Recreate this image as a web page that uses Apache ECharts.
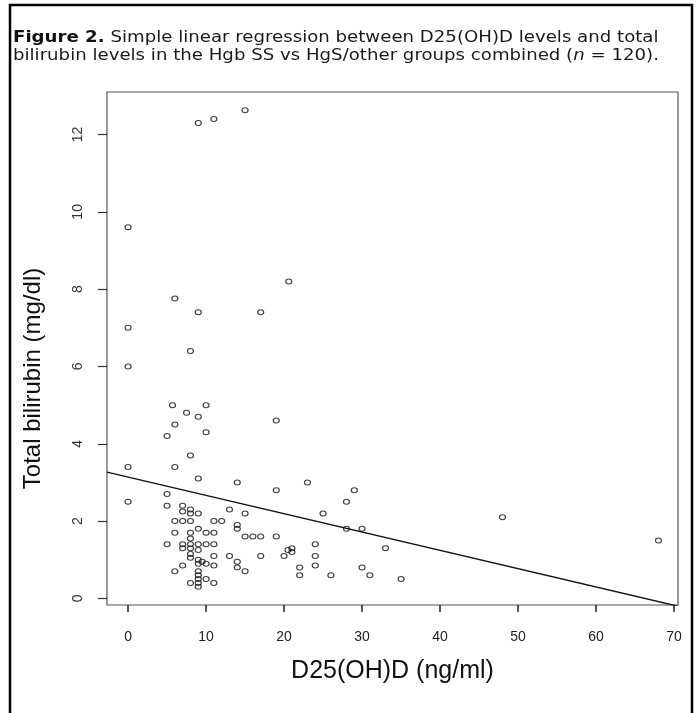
<!DOCTYPE html>
<html>
<head>
<meta charset="utf-8">
<script src="https://cdn.jsdelivr.net/npm/echarts@6.0.0/dist/echarts.min.js"></script>
<style>
  html, body { margin: 0; padding: 0; background: #fff; }
  #chart { width: 699px; height: 713px; }
</style>
</head>
<body>
<div id="chart"></div>
<script>
// D25(OH)D (ng/ml)
const vitD = [
  0, 9, 11, 15, 20.6, 6, 9, 17, 0, 8, 0, 5.7, 10, 7.5, 9, 19, 6, 10, 5, 8,
  0, 6, 9, 14, 23, 19, 29, 0, 28, 5, 25, 13, 15, 48, 68, 35,
  14, 14, 28, 30, 15, 16, 17, 19, 20.5, 21, 21, 24, 24, 24, 13, 17, 20, 14, 14, 15,
  22, 22, 26, 30, 31, 33,
  5, 7, 7, 8, 8, 9, 6, 7, 8, 11, 12, 6, 8, 9, 10, 11, 8,
  5, 7, 7, 8, 8, 8, 8, 9, 9, 10, 11, 11,
  9, 9.5, 10, 11, 7, 6, 9, 9, 8, 9, 9, 10, 11, 9, 9
];
// Total bilirubin (mg/dl)
const bilirubin = [
  9.6, 12.3, 12.4, 12.63, 8.2, 7.76, 7.4, 7.4, 7.0, 6.4, 6.0, 5.0, 5.0, 4.8, 4.7, 4.6, 4.5, 4.3, 4.2, 3.7,
  3.4, 3.4, 3.1, 3.0, 3.0, 2.8, 2.8, 2.5, 2.5, 2.7, 2.2, 2.3, 2.2, 2.1, 1.5, 0.5,
  1.9, 1.8, 1.8, 1.8, 1.6, 1.6, 1.6, 1.6, 1.25, 1.3, 1.2, 1.4, 1.1, 0.85, 1.1, 1.1, 1.1, 0.95, 0.8, 0.7,
  0.8, 0.6, 0.6, 0.8, 0.6, 1.3,
  2.4, 2.4, 2.25, 2.3, 2.2, 2.2, 2.0, 2.0, 2.0, 2.0, 2.0, 1.7, 1.7, 1.8, 1.7, 1.7, 1.55,
  1.4, 1.4, 1.3, 1.4, 1.3, 1.15, 1.05, 1.4, 1.25, 1.4, 1.4, 1.1,
  0.9, 0.95, 0.9, 0.85, 0.85, 0.7, 0.7, 0.6, 0.4, 0.4, 0.3, 0.5, 0.4, 1.0, 0.5
];

const xTicks = [0, 10, 20, 30, 40, 50, 60, 70];
const yTicks = [0, 2, 4, 6, 8, 10, 12];

// fitted line: bilirubin = intercept + slope * vitD
const intercept = 3.14;
const slope = -0.0474;

const xMin = -2.7, xMax = 70.5;
const yMin = -0.17, yMax = 13.1;

const points = vitD.map((v, i) => [v, bilirubin[i]]);
const fitLine = [xMin, xMax].map(x => [x, intercept + slope * x]);

const chart = echarts.init(document.getElementById('chart'));

const option = {
  animation: false,
  backgroundColor: '#fff',
  graphic: [
    {
      type: 'rect',
      shape: { x: 10, y: 5, width: 682, height: 730 },
      style: { fill: 'none', stroke: '#000', lineWidth: 2.5 },
      z: 10
    },
    {
      type: 'text',
      x: 13,
      y: 29,
      scaleX: 1.21,
      style: {
        text: '{b|Figure 2.} Simple linear regression between D25(OH)D levels and total\nbilirubin levels in the Hgb SS vs HgS/other groups combined ({i|n} = 120).',
        font: '15px "DejaVu Sans"',
        fill: '#1a1a1a',
        lineHeight: 18,
        rich: {
          b: { font: 'bold 15px "DejaVu Sans"', fill: '#111' },
          i: { font: 'italic 15px "DejaVu Sans"', fill: '#1a1a1a' }
        }
      }
    }
  ],
  grid: {
    left: 107,
    right: 21,
    top: 92,
    bottom: 108,
    show: true,
    borderColor: '#555',
    borderWidth: 1.2
  },
  xAxis: {
    type: 'value',
    min: xMin,
    max: xMax,
    name: 'D25(OH)D (ng/ml)',
    nameLocation: 'middle',
    nameGap: 54,
    nameTextStyle: { fontFamily: 'Liberation Sans', fontSize: 25, color: '#111' },
    axisLine: { show: false, onZero: false },
    axisTick: { show: true, length: 7, lineStyle: { color: '#222', width: 1.5 }, customValues: xTicks },
    axisLabel: { fontFamily: 'Liberation Sans', fontSize: 14, color: '#222', margin: 25, customValues: xTicks },
    splitLine: { show: false }
  },
  yAxis: {
    type: 'value',
    min: yMin,
    max: yMax,
    name: 'Total bilirubin (mg/dl)',
    nameLocation: 'middle',
    nameRotate: 90,
    nameGap: 62,
    nameTextStyle: { fontFamily: 'Liberation Sans', fontSize: 24, color: '#111', padding: [0, 60, 0, 0] },
    axisLine: { show: false, onZero: false },
    axisTick: { show: true, length: 9, lineStyle: { color: '#333', width: 1.2 }, customValues: yTicks },
    axisLabel: { fontFamily: 'Liberation Sans', fontSize: 14, color: '#333', rotate: 90, margin: 22, customValues: yTicks },
    splitLine: { show: false }
  },
  series: [
    {
      type: 'scatter',
      data: points,
      symbol: 'circle',
      symbolSize: [6, 5],
      itemStyle: { color: 'rgba(0,0,0,0)', borderColor: '#111', borderWidth: 1.1 },
      z: 3
    },
    {
      type: 'line',
      data: fitLine,
      showSymbol: false,
      lineStyle: { color: '#111', width: 1.4 },
      z: 4
    }
  ]
};

chart.setOption(option);
</script>
</body>
</html>
